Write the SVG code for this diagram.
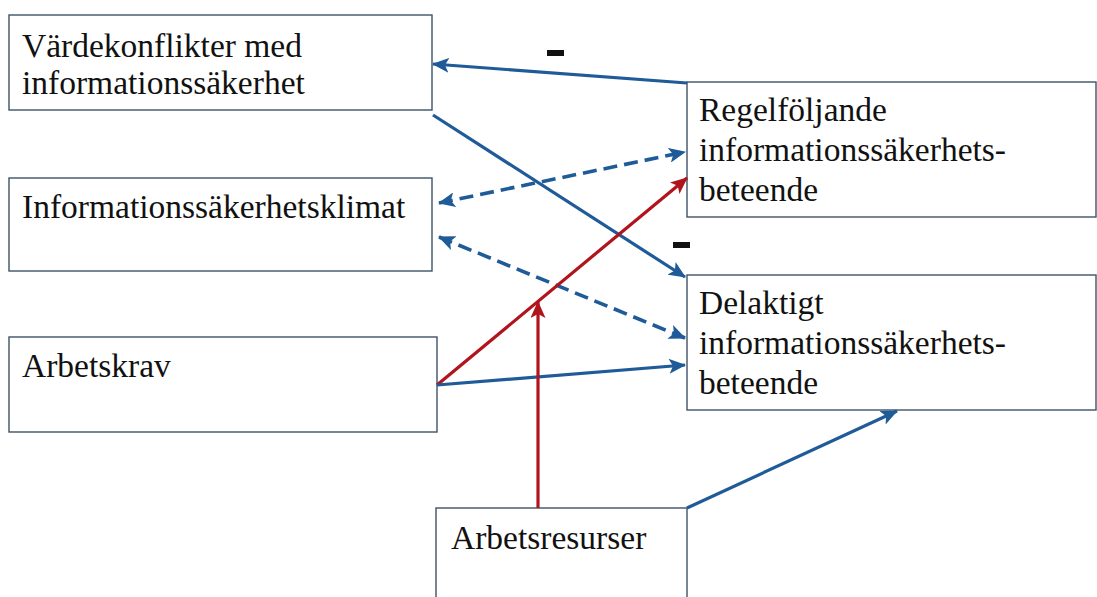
<svg xmlns="http://www.w3.org/2000/svg" width="1097" height="597" viewBox="0 0 1097 597">
<defs>
<style>
.box{fill:#fff;stroke:#3F5266;stroke-width:1.4}
.t{font-family:"Liberation Serif","Times New Roman",serif;font-size:33.5px;fill:#111}
.b{fill:none;stroke:#1F5B98;stroke-width:3.2}
.r{fill:none;stroke:#B0141C;stroke-width:3.2}
.d{stroke-dasharray:14 7;stroke-width:3.6}
.m{fill:#111}
</style>
<marker id="ab" markerUnits="userSpaceOnUse" viewBox="0 0 17 15" refX="16" refY="7.5" markerWidth="17" markerHeight="15" orient="auto-start-reverse"><path d="M0,0 L17,7.5 L0,15 L4,7.5 z" fill="#1F5B98"/></marker>
<marker id="ar" markerUnits="userSpaceOnUse" viewBox="0 0 17 15" refX="16" refY="7.5" markerWidth="17" markerHeight="15" orient="auto-start-reverse"><path d="M0,0 L17,7.5 L0,15 L4,7.5 z" fill="#B0141C"/></marker>
</defs>
<rect width="1097" height="597" fill="#fff"/>
<g id="n1"><rect class="box" x="9" y="15" width="423" height="95"/><text class="t" x="22" y="57">Värdekonflikter med</text><text class="t" x="22" y="94">informationssäkerhet</text></g>
<g id="n2"><rect class="box" x="9" y="178" width="423" height="93"/><text class="t" x="22" y="218">Informationssäkerhetsklimat</text></g>
<g id="n3"><rect class="box" x="9" y="337" width="428" height="95"/><text class="t" x="22" y="377">Arbetskrav</text></g>
<g id="n4"><rect class="box" x="687" y="82" width="409" height="135"/><text class="t" x="699" y="121">Regelföljande</text><text class="t" x="699" y="161">informationssäkerhets-</text><text class="t" x="699" y="201">beteende</text></g>
<g id="n5"><rect class="box" x="687" y="275" width="409" height="135"/><text class="t" x="699" y="314">Delaktigt</text><text class="t" x="699" y="354">informationssäkerhets-</text><text class="t" x="699" y="394">beteende</text></g>
<g id="n6"><rect class="box" x="436" y="508" width="251" height="95"/><text class="t" x="451" y="549">Arbetsresurser</text></g>
<g id="connectors">
<line class="b" x1="687" y1="83" x2="433" y2="64" marker-end="url(#ab)"/>
<line class="b" x1="433" y1="115" x2="685" y2="277" marker-end="url(#ab)"/>
<line class="b d" x1="439" y1="203" x2="685" y2="152" marker-start="url(#ab)" marker-end="url(#ab)"/>
<line class="b d" x1="439" y1="237" x2="685" y2="338" marker-start="url(#ab)" marker-end="url(#ab)"/>
<line class="r" x1="437" y1="385" x2="687" y2="178" marker-end="url(#ar)"/>
<line class="b" x1="437" y1="385" x2="685" y2="365" marker-end="url(#ab)"/>
<line class="r" x1="538" y1="508" x2="538" y2="302" marker-end="url(#ar)"/>
<line class="b" x1="687" y1="508" x2="897" y2="411" marker-end="url(#ab)"/>
</g>
<rect class="m" x="547" y="50" width="17" height="6"/>
<rect class="m" x="673" y="242" width="17" height="6"/>
</svg>
